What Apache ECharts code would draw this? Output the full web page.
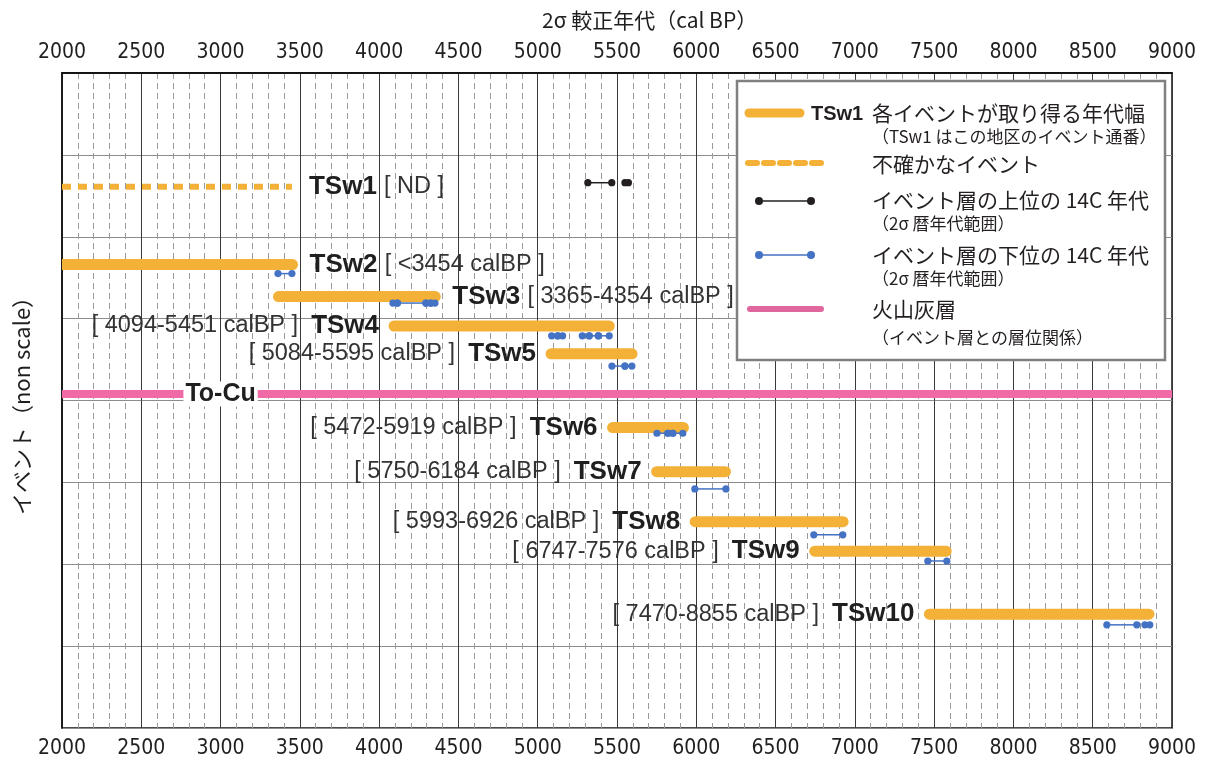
<!DOCTYPE html>
<html>
<head>
<meta charset="utf-8">
<script src="https://cdn.jsdelivr.net/npm/echarts@6/dist/echarts.min.js"></script>
<style>
  html, body { margin: 0; padding: 0; background: #fff; }
  #chart { width: 1208px; height: 760px; }
</style>
</head>
<body>
<div id="chart"></div>
<script>
// 颜色
const ORANGE = '#f4b137';
const PINK = '#ef6aa6';
const BLUE = '#4472c4';
const BLACK = '#231f20';
const TEXT = '#1f1f1f';
const LATIN = '"Liberation Sans", Arial, sans-serif';
const JP = '"Noto Sans CJK JP", "Noto Sans", sans-serif';

// 事件（年代幅, calBP）
const eventNames = ['TSw1', 'TSw2', 'TSw3', 'TSw4', 'TSw5', 'TSw6', 'TSw7', 'TSw8', 'TSw9', 'TSw10'];
const eventStart = [2000, 2000, 3365, 4094, 5084, 5472, 5750, 5993, 6747, 7470];
const eventEnd = [3450, 3454, 4354, 5451, 5595, 5919, 6184, 6926, 7576, 8855];
const eventRow = [1.39, 2.34, 2.73, 3.09, 3.43, 4.33, 4.87, 5.48, 5.84, 6.61];
const eventAges = ['[ ND ]', '[ <3454 calBP ]', '[ 3365-4354 calBP ]', '[ 4094-5451 calBP ]',
  '[ 5084-5595 calBP ]', '[ 5472-5919 calBP ]', '[ 5750-6184 calBP ]', '[ 5993-6926 calBP ]',
  '[ 6747-7576 calBP ]', '[ 7470-8855 calBP ]'];
const eventCertain = [false, true, true, true, true, true, true, true, true, true];
const labelSide = ['right', 'right', 'right', 'left', 'left', 'left', 'left', 'left', 'left', 'left'];

// 事件層の上位の14C年代
const upperFrom = [5316, 5550];
const upperTo = [5467, 5572];
const upperRow = [1.34, 1.34];

// 事件層の下位の14C年代
const lowerFrom = [3362, 4087, 4115, 4295, 4325, 5088, 5126, 5281, 5325, 5382, 5468, 5550,
  5752, 5821, 5852, 5991, 6741, 7460, 8589, 8829];
const lowerTo = [3450, 4115, 4295, 4325, 4352, 5126, 5157, 5325, 5382, 5451, 5550, 5594,
  5821, 5852, 5915, 6187, 6924, 7580, 8778, 8860];
const lowerRow = [2.45, 2.81, 2.81, 2.81, 2.81, 3.21, 3.21, 3.21, 3.21, 3.21, 3.58, 3.58,
  4.40, 4.40, 4.40, 5.08, 5.64, 5.96, 6.74, 6.74];

// 火山灰層
const tephraName = 'To-Cu';
const tephraRow = 3.92;
const tephraLabelAt = 3000;

const chart = echarts.init(document.getElementById('chart'));

const axisLabelStyle = {
  color: TEXT,
  fontSize: 21,
  fontFamily: '"Liberation Sans Narrow", "DejaVu Sans Condensed", sans-serif',
  formatter: (v) => String(v)
};

const renderEvent = (params, api) => {
  const i = params.dataIndex;
  const p0 = api.coord([api.value(0), api.value(2)]);
  const p1 = api.coord([api.value(1), api.value(2)]);
  const certain = eventCertain[i];
  const right = labelSide[i] === 'right';
  const text = right
    ? '{b|' + eventNames[i] + ' }{n|' + eventAges[i] + '}'
    : '{n|' + eventAges[i] + '  }{b|' + eventNames[i] + '}';
  return {
    type: 'group',
    children: [
      {
        type: 'line',
        shape: { x1: p0[0], y1: p0[1], x2: p1[0], y2: p1[1] },
        style: {
          stroke: ORANGE,
          lineWidth: certain ? 11 : 6,
          lineCap: certain ? 'round' : 'butt',
          lineDash: certain ? null : [9, 7]
        }
      },
      {
        type: 'text',
        style: {
          text: text,
          x: right ? p1[0] + 17 : p0[0] - 15,
          y: p0[1],
          align: right ? 'left' : 'right',
          verticalAlign: 'middle',
          rich: {
            b: { fontSize: 26, fontWeight: 'bold', fontFamily: LATIN, fill: TEXT },
            n: { fontSize: 23.5, fontFamily: LATIN, fill: '#333' }
          }
        }
      }
    ]
  };
};

const makeRangeRenderer = (color) => (params, api) => {
  const p0 = api.coord([api.value(0), api.value(2)]);
  const p1 = api.coord([api.value(1), api.value(2)]);
  return {
    type: 'group',
    children: [
      { type: 'line', shape: { x1: p0[0], y1: p0[1], x2: p1[0], y2: p1[1] }, style: { stroke: color, lineWidth: 1.5 } },
      { type: 'circle', shape: { cx: p0[0], cy: p0[1], r: 3.6 }, style: { fill: color } },
      { type: 'circle', shape: { cx: p1[0], cy: p1[1], r: 3.6 }, style: { fill: color } }
    ]
  };
};

const renderTephra = (params, api) => {
  const p0 = api.coord([api.value(0), api.value(2)]);
  const p1 = api.coord([api.value(1), api.value(2)]);
  const pt = api.coord([tephraLabelAt, api.value(2)]);
  return {
    type: 'group',
    children: [
      { type: 'line', shape: { x1: p0[0], y1: p0[1], x2: p1[0], y2: p1[1] }, style: { stroke: PINK, lineWidth: 8 } },
      {
        type: 'text',
        style: {
          text: tephraName, x: pt[0], y: pt[1], align: 'center', verticalAlign: 'middle',
          font: 'bold 25px ' + LATIN, fill: TEXT,
          backgroundColor: '#fff', padding: [0, 2]
        }
      }
    ]
  };
};

// 凡例
const LX = 872;
const legendText = (x, y, text, size) => ({
  type: 'text', z: 101,
  style: { text: text, x: x, y: y, verticalAlign: 'middle', font: size + 'px ' + JP, fill: BLACK }
});

const legend = [
  { type: 'rect', z: 100, shape: { x: 737, y: 81, width: 428, height: 279 }, style: { fill: '#fff', stroke: '#808080', lineWidth: 2.5 } },
  { type: 'line', z: 101, shape: { x1: 749, y1: 113, x2: 800, y2: 113 }, style: { stroke: ORANGE, lineWidth: 9, lineCap: 'round' } },
  { type: 'text', z: 101, style: { text: 'TSw1', x: 811, y: 114, verticalAlign: 'middle', font: 'bold 20px ' + LATIN, fill: BLACK } },
  legendText(LX, 113, '各イベントが取り得る年代幅', 21),
  legendText(LX, 137, '（TSw1 はこの地区のイベント通番）', 17),
  { type: 'line', z: 101, shape: { x1: 748, y1: 163, x2: 823, y2: 163 }, style: { stroke: ORANGE, lineWidth: 6, lineCap: 'round', lineDash: [9, 7] } },
  legendText(LX, 164, '不確かなイベント', 21),
  { type: 'line', z: 101, shape: { x1: 759, y1: 201, x2: 811, y2: 201 }, style: { stroke: BLACK, lineWidth: 1.5 } },
  { type: 'circle', z: 101, shape: { cx: 759, cy: 201, r: 4 }, style: { fill: BLACK } },
  { type: 'circle', z: 101, shape: { cx: 811, cy: 201, r: 4 }, style: { fill: BLACK } },
  legendText(LX, 200, 'イベント層の上位の 14C 年代', 21),
  legendText(LX, 224, '（2σ 暦年代範囲）', 17),
  { type: 'line', z: 101, shape: { x1: 759, y1: 255, x2: 811, y2: 255 }, style: { stroke: BLUE, lineWidth: 1.5 } },
  { type: 'circle', z: 101, shape: { cx: 759, cy: 255, r: 4 }, style: { fill: BLUE } },
  { type: 'circle', z: 101, shape: { cx: 811, cy: 255, r: 4 }, style: { fill: BLUE } },
  legendText(LX, 255, 'イベント層の下位の 14C 年代', 21),
  legendText(LX, 279, '（2σ 暦年代範囲）', 17),
  { type: 'line', z: 101, shape: { x1: 750, y1: 309, x2: 821, y2: 309 }, style: { stroke: '#e0679d', lineWidth: 6, lineCap: 'round' } },
  legendText(LX, 309, '火山灰層', 21),
  legendText(LX, 338, '（イベント層との層位関係）', 17)
];

const option = {
  backgroundColor: '#fff',
  animation: false,
  title: {
    text: '2σ 較正年代（cal BP）',
    left: 537, top: 5,
    textStyle: { fontSize: 21, fontWeight: 'normal', fontFamily: JP, color: TEXT }
  },
  grid: {
    left: 62, right: 36, top: 73, bottom: 32,
    containLabel: false, outerBoundsMode: 'none',
    show: true, borderColor: '#111', borderWidth: 1.5
  },
  xAxis: [
    {
      type: 'value', position: 'bottom', min: 2000, max: 9000, interval: 500,
      axisLine: { show: true, lineStyle: { color: '#111', width: 1.5 } },
      axisTick: { show: false },
      axisLabel: Object.assign({ margin: 10 }, axisLabelStyle),
      splitLine: { show: true, lineStyle: { color: '#3a3a3a', width: 1 } },
      minorTick: { show: false, splitNumber: 5 },
      minorSplitLine: { show: true, lineStyle: { color: '#9a9a9a', width: 1, type: [6, 4] } }
    },
    {
      type: 'value', position: 'top', min: 2000, max: 9000, interval: 500,
      axisLine: { show: true, lineStyle: { color: '#111', width: 1.5 } },
      axisTick: { show: false },
      axisLabel: Object.assign({ margin: 10 }, axisLabelStyle),
      splitLine: { show: false }
    }
  ],
  yAxis: {
    type: 'value', min: 0, max: 8, interval: 1, inverse: true,
    axisLine: { show: true, lineStyle: { color: '#111', width: 1.5 } },
    axisTick: { show: false },
    axisLabel: { show: false },
    splitLine: { show: true, lineStyle: { color: '#8c8c8c', width: 1 } },
    name: 'イベント（non scale）', nameLocation: 'middle', nameGap: 29,
    nameTextStyle: { fontSize: 22, fontFamily: JP, color: TEXT }
  },
  series: [
    {
      name: 'tephra', type: 'custom', clip: true, renderItem: renderTephra,
      data: [[2000, 9000, tephraRow]]
    },
    {
      name: 'events', type: 'custom', clip: true, renderItem: renderEvent,
      data: eventNames.map((n, i) => [eventStart[i], eventEnd[i], eventRow[i]])
    },
    {
      name: 'upper', type: 'custom', clip: true, renderItem: makeRangeRenderer(BLACK),
      data: upperFrom.map((v, i) => [v, upperTo[i], upperRow[i]])
    },
    {
      name: 'lower', type: 'custom', clip: true, renderItem: makeRangeRenderer(BLUE),
      data: lowerFrom.map((v, i) => [v, lowerTo[i], lowerRow[i]])
    }
  ],
  graphic: legend
};

chart.setOption(option);
</script>
</body>
</html>
